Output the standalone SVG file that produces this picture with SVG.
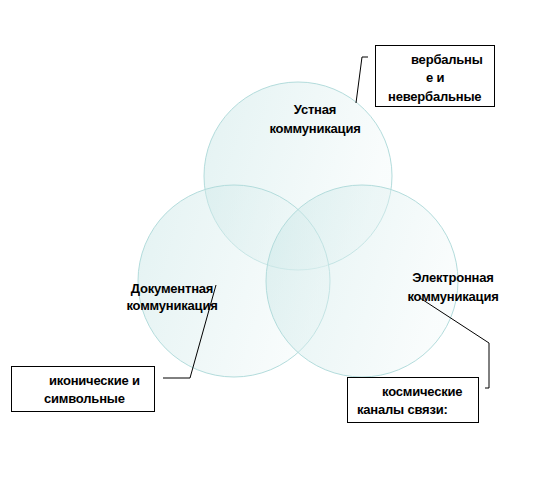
<svg xmlns="http://www.w3.org/2000/svg" width="556" height="492" viewBox="0 0 556 492">
<defs>
<linearGradient id="g" x1="0" y1="0" x2="1" y2="0.3">
<stop offset="0" stop-color="#c2e3e3"/>
<stop offset="1" stop-color="#f2f9f9"/>
</linearGradient>
</defs>
<style>
.c{fill:url(#g);fill-opacity:0.45;stroke:#b3dcdc;stroke-width:1}
.t{font-family:"Liberation Sans",Arial,sans-serif;font-weight:bold;font-size:13px;fill:#000;letter-spacing:-0.2px}
.m{text-anchor:middle}
.b{fill:#fff;stroke:#000;stroke-width:1}
.l{fill:none;stroke:#000;stroke-width:1}
</style>
<rect width="556" height="492" fill="#fff"/>
<g id="oral"><circle class="c" cx="298" cy="176" r="94"/><text class="t m" x="315" y="114">Устная</text><text class="t m" x="315" y="133">коммуникация</text></g>
<g id="document"><circle class="c" cx="234" cy="281" r="96"/></g>
<g id="electronic"><circle class="c" cx="362" cy="281" r="96"/></g>
<g id="labels">
<text class="t m" x="172" y="293">Документная</text><text class="t m" x="172" y="310">коммуникация</text>
<text class="t m" x="453" y="282">Электронная</text><text class="t m" x="453" y="301">коммуникация</text>
</g>
<g id="connectors">
<polyline class="l" points="368,57 362,57 356,103"/>
<polyline class="l" points="163,378 190,378 216,285"/>
<polyline class="l" points="420,298 489,343 489,388 485,388"/>
</g>
<g id="box-verbal"><rect class="b" x="375.5" y="45.5" width="119" height="61"/>
<text class="t" x="411" y="64">вербальны</text><text class="t" x="426" y="82">е и</text><text class="t" x="388" y="101">невербальные</text></g>
<g id="box-iconic"><rect class="b" x="11.5" y="366.5" width="143" height="45"/>
<text class="t" x="49" y="385">иконические и</text><text class="t" x="44" y="403">символьные</text></g>
<g id="box-space"><rect class="b" x="347.5" y="377.5" width="131" height="45"/>
<text class="t" x="382" y="396">космические</text><text class="t" x="357" y="414">каналы связи:</text></g>
</svg>
